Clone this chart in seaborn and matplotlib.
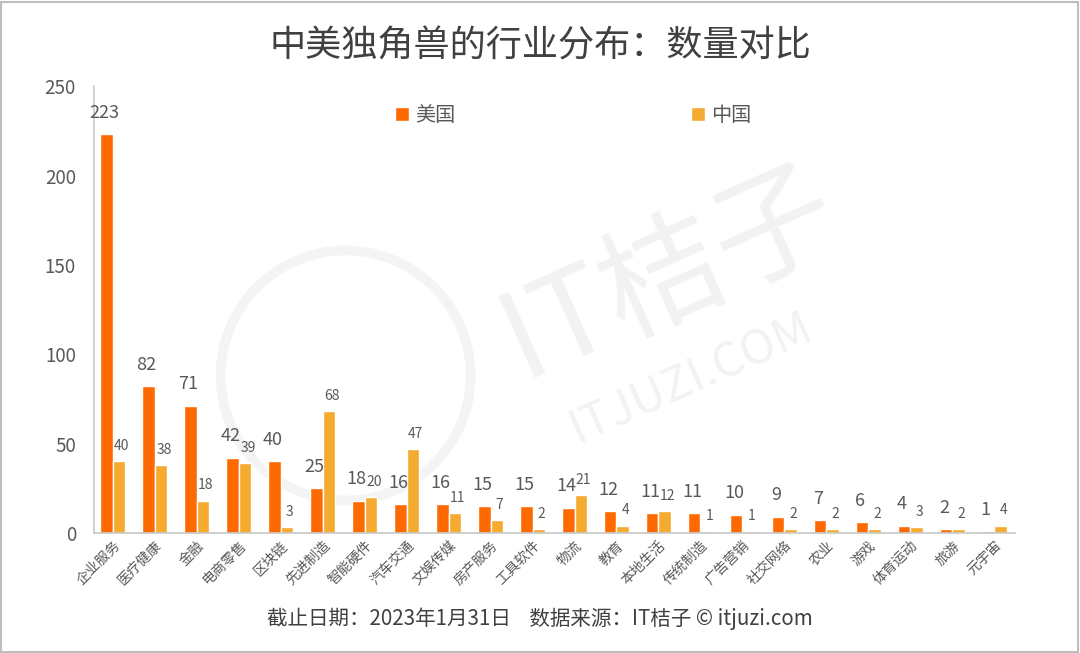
import pandas as pd
import matplotlib.pyplot as plt
import seaborn as sns
from matplotlib.patches import Rectangle, Ellipse

# Data
categories = ["企业服务", "医疗健康", "金融", "电商零售", "区块链", "先进制造", "智能硬件",
              "汽车交通", "文娱传媒", "房产服务", "工具软件", "物流", "教育", "本地生活",
              "传统制造", "广告营销", "社交网络", "农业", "游戏", "体育运动", "旅游", "元宇宙"]
us_counts = [223, 82, 71, 42, 40, 25, 18, 16, 16, 15, 15, 14, 12, 11, 11, 10, 9, 7, 6, 4, 2, 1]
cn_counts = [40, 38, 18, 39, 3, 68, 20, 47, 11, 7, 2, 21, 4, 12, 1, 1, 2, 2, 2, 3, 2, 4]
series = ["美国", "中国"]
colors = ["#FF6A00", "#F5AA30"]

df = pd.DataFrame({
    "行业": categories * 2,
    "国家": [series[0]] * len(categories) + [series[1]] * len(categories),
    "数量": us_counts + cn_counts,
})

sns.set_style("white")
plt.rcParams["font.family"] = ["Noto Sans CJK SC", "DejaVu Sans"]

fig = plt.figure(figsize=(10.8, 6.53), dpi=100)
ax = fig.add_axes([0.087, 0.184, 0.853, 0.684], zorder=1)

# faint watermark (logo ring + text), kept behind the axes
fig.patches.append(Ellipse((0.32, 0.425), 250 / 1080, 250 / 653, transform=fig.transFigure,
                           fill=False, edgecolor="#f4f4f4", linewidth=7, zorder=-1))
fig.text(0.62, 0.58, "IT桔子", fontsize=88, color="#f2f2f2", rotation=24,
         ha="center", va="center", zorder=-1)
fig.text(0.64, 0.42, "ITJUZI.COM", fontsize=34, color="#f2f2f2", rotation=24,
         ha="center", va="center", zorder=-1)

sns.barplot(data=df, x="行业", y="数量", hue="国家", palette=colors,
            width=0.6, saturation=1, ax=ax, zorder=2)
ax.patch.set_alpha(0)

# value labels
us_labels = ax.bar_label(ax.containers[0], fontsize=13, color="#595959", padding=9)
cn_labels = ax.bar_label(ax.containers[1], fontsize=10, color="#595959", padding=6)
for t in us_labels:
    t.xyann = (-1.5, 9)
for t in cn_labels:
    t.xyann = (2, 6)

ax.set_ylim(0, 250)
ax.set_yticks([0, 50, 100, 150, 200, 250])
ax.set_xlim(-0.45, 21.5)
ax.set_xlabel("")
ax.set_ylabel("")
ax.tick_params(axis="y", labelsize=13.5, labelcolor="#595959", length=0, pad=13)
ax.tick_params(axis="x", labelsize=10, labelcolor="#595959", length=0, pad=4)
plt.setp(ax.get_xticklabels(), rotation=45, ha="right", rotation_mode="anchor")

for side in ["top", "right"]:
    ax.spines[side].set_visible(False)
for side in ["left", "bottom"]:
    ax.spines[side].set_color("#c8c8c8")
    ax.spines[side].set_linewidth(1.2)

ax.legend(loc="center", bbox_to_anchor=(0.52, 0.935), ncol=2, frameon=False,
          fontsize=14.5, handlelength=0.7, handleheight=0.7, handletextpad=0.3,
          columnspacing=11.7, labelcolor="#595959")

fig.text(0.5, 0.928, "中美独角兽的行业分布：数量对比", ha="center", va="center",
         fontsize=26, color="#404040")
fig.text(0.5, 0.052, "截止日期：2023年1月31日    数据来源：IT桔子 © itjuzi.com",
         ha="center", va="center", fontsize=14.8, color="#404040")

# outer frame
fig.patches.append(Rectangle((0.001, 0.002), 0.997, 0.995, transform=fig.transFigure,
                             fill=False, edgecolor="#bdbdbd", linewidth=1.5))

fig.savefig("out.png", dpi=100)
